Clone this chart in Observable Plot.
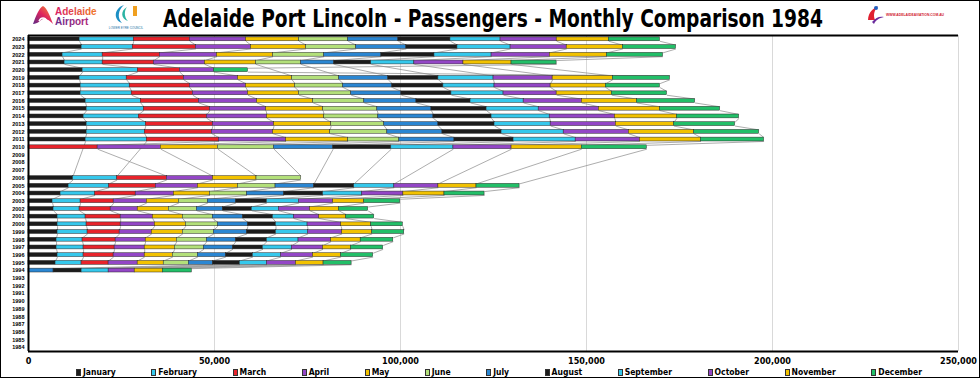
<!DOCTYPE html>
<html>
<head>
<meta charset="utf-8">
<script src="https://cdn.jsdelivr.net/npm/d3@7"></script>
<script src="https://cdn.jsdelivr.net/npm/@observablehq/plot@0.6"></script>
<style>
  html, body { margin: 0; padding: 0; background: #fff; }
  #page { position: relative; width: 980px; height: 378px; overflow: hidden; background: #fff; }
  #border { position: absolute; left: 0; top: 0; width: 980px; height: 378px; box-sizing: border-box; border: 1px solid #000; pointer-events: none; }
  #header { position: absolute; left: 0; top: 0; width: 980px; height: 33px; }
  #chart { position: absolute; left: 0; top: 33px; }
  #legend { position: absolute; left: 76px; top: 366px; width: 846px; height: 12px; display: flex; justify-content: space-between;
            font-family: "Liberation Sans Narrow", "DejaVu Sans Condensed", "Arial Narrow", sans-serif; font-stretch: condensed; font-size: 8.5px; font-weight: bold; color: #000; }
  #legend .item { display: flex; align-items: center; gap: 2px; white-space: nowrap; }
  #legend .sw { width: 5px; height: 7px; border: 1px solid #333; box-sizing: border-box; }
</style>
</head>
<body>
<div id="page">
  <svg id="header" width="980" height="33" xmlns="http://www.w3.org/2000/svg">
    <defs>
      <linearGradient id="gA" x1="0" y1="1" x2="1" y2="0">
        <stop offset="0" stop-color="#5b2a86"/><stop offset="0.5" stop-color="#e0245e"/><stop offset="1" stop-color="#f39a2b"/>
      </linearGradient>
      <linearGradient id="gT" x1="0" y1="0" x2="1" y2="0">
        <stop offset="0" stop-color="#d81f63"/><stop offset="1" stop-color="#f07a28"/>
      </linearGradient>
      <linearGradient id="gT2" x1="0" y1="0" x2="1" y2="0">
        <stop offset="0" stop-color="#6a2a8c"/><stop offset="1" stop-color="#b0287a"/>
      </linearGradient>
    </defs>
    <!-- Adelaide Airport logo -->
    <path d="M33,24 C36,16 39,8 43,6 C47,8 50,16 53,24 C50,21 46,18 43,19 C40,20 38,24 33,24 Z" fill="url(#gA)"/>
    <path d="M39,21 C41,17 45,17 47,21" fill="none" stroke="#fff" stroke-width="1.5"/>
    <text x="55" y="15" font-family="Liberation Sans, Arial, sans-serif" font-weight="bold" font-size="10" fill="url(#gT)">Adelaide</text>
    <text x="55" y="25" font-family="Liberation Sans, Arial, sans-serif" font-weight="bold" font-size="10" fill="url(#gT2)">Airport</text>
    <!-- Lower Eyre Council logo -->
    <path d="M124,5 C114,8 113,20 122,23 C117,18 118,10 124,5 Z" fill="#1c8fc4"/>
    <path d="M127,7 C120,11 121,19 128,21 C124,17 124,11 127,7 Z" fill="#2bb3a3"/>
    <rect x="133" y="6" width="4" height="10" fill="#f0a020"/>
    <text x="126" y="29" text-anchor="middle" font-family="Liberation Sans, sans-serif" font-size="3" fill="#1c6fa4">LOWER EYRE COUNCIL</text>
    <!-- Title (horizontally scaled to span x 163..823) -->
    <g id="titleG">
      <text id="title" x="0" y="27" text-anchor="middle" font-family="Liberation Sans Narrow, DejaVu Sans Condensed, Liberation Sans, sans-serif" font-weight="bold" font-size="24" fill="#000">Adelaide Port Lincoln - Passengers - Monthly Comparison 1984</text>
    </g>
    <!-- Adelaide Aviation logo -->
    <path d="M868,20 C868,12 874,8 878,6 C874,11 873,15 875,20 Z" fill="#e02030"/>
    <path d="M872,22 C876,17 880,16 884,17 C879,18 876,20 874,24 Z" fill="#6a2a9c"/>
    <circle cx="876" cy="8" r="2" fill="#2060c0"/>
    <text x="886" y="16" font-family="Liberation Sans, sans-serif" font-size="3.4" font-weight="bold" fill="#d02030">WWW.ADELAIDEAVIATION.COM.AU</text>
  </svg>
  <div id="chart"></div>
  <div id="legend"></div>
  <div id="border"></div>
</div>
<script>
// ---- Data (passengers per month) ----
const months = ["January","February","March","April","May","June","July","August","September","October","November","December"];
const monthColors = ["#1c1c1c","#35c8ec","#e8232b","#9346c6","#f2c200","#b3e07a","#2a86d2","#1c1c1c","#35c8ec","#9346c6","#f2c200","#22bf68"];
const years = d3.range(2024, 1983, -1);

const y2024 = [13740,14550,15090,15090,14280,13200,13470,14010,13470,15090,14010,13740];
const y2023 = [14280,13740,16970,14820,14820,13470,13470,13740,14280,15090,15090,14280];
const y2022 = [9160,10780,15360,15360,15090,13740,15360,14280,15360,15630,15360,15090];
const y2021 = [9700,10240,13740,13740,13740,12120,8890,9970,11580,13200,12930,12120];
const y2020 = [14550,14820,11310,9160,null,null,null,null,null,null,null,9160];
const y2019 = [13740,12660,15360,14550,14550,12660,13200,13470,14820,15890,16160,15360];
const y2018 = [14010,13200,16160,15090,13200,12930,13200,13740,13740,15090,14820,14550];
const y2017 = [14010,13740,16430,14820,13740,14010,13470,13470,14010,14280,14820,14820];
const y2016 = [15360,14820,15630,15630,15090,13740,14010,14550,14280,15630,14820,15630];
const y2015 = [15630,15360,17780,15090,15360,14550,14550,14820,14010,16160,16430,16160];
const y2014 = [14820,14820,18320,16160,15360,14550,14820,15630,15630,17510,16700,16700];
const y2013 = [15630,15890,18050,16430,15360,14280,14550,15090,15090,17510,15630,16430];
const y2012 = [15630,15630,18050,16430,15360,15360,14820,15890,16700,17510,17510,17510];
const y2011 = [15360,16430,19400,18050,16700,13740,14820,15890,16700,17240,16430,16970];
const y2010 = [null,null,18590,16970,15360,15090,15890,15630,16700,15630,18860,17510];
const y2006 = [11990,11850,13340,12390,11720,11990,null,null,null,null,null,null];
const y2005 = [10780,10910,12530,11310,10780,10100,10370,10780,10780,11850,10240,11580];
const y2004 = [8620,9290,10910,10240,9700,9970,9970,10510,10510,11050,11050,10780];
const y2003 = [6470,7540,8890,8890,8620,7810,7540,8350,8620,9160,8350,9700];
const y2002 = [6740,7000,8350,7270,8350,7540,7000,7810,7270,8350,7810,7810];
const y2001 = [7810,7540,9430,8620,8080,8080,8080,8080,5660,6740,7270,7540];
const y2000 = [7810,7810,9160,9160,8350,8620,8080,7540,8490,9020,8080,8490];
const y1999 = [7810,8080,8620,8620,8350,8350,8890,7810,8620,9160,8080,8620];
const y1998 = [7540,7000,8890,8080,8350,8080,7810,8350,8490,8760,7950,8760];
const y1997 = [7540,7270,8350,8080,8080,7810,7810,8080,7810,8350,7540,8620];
const y1996 = [7810,7000,8080,8350,7540,6740,7540,7270,7540,8620,7540,8620];
const y1995 = [7270,7000,7270,7810,7000,6740,6470,7270,7270,7810,7410,7540];
const y1994 = [null,null,null,null,null,null,6740,7540,7270,7000,7540,7810];

const xTicks = [0, 50000, 100000, 150000, 200000, 250000];

// ---- Title fit ----
(function fitTitle() {
  const t = document.getElementById("title");
  const w = t.getComputedTextLength() || 660;
  const sx = 660 / w;
  document.getElementById("titleG").setAttribute("transform", `translate(493,0) scale(${sx},1)`);
})();

// ---- Build tables ----
const series = {2024:y2024,2023:y2023,2022:y2022,2021:y2021,2020:y2020,2019:y2019,2018:y2018,2017:y2017,2016:y2016,2015:y2015,2014:y2014,2013:y2013,2012:y2012,2011:y2011,2010:y2010,2006:y2006,2005:y2005,2004:y2004,2003:y2003,2002:y2002,2001:y2001,2000:y2000,1999:y1999,1998:y1998,1997:y1997,1996:y1996,1995:y1995,1994:y1994};
const half = 0.25;
const segs = [];
const ends = {};
for (const yr of years) {
  const vals = series[yr];
  if (!vals) continue;
  let c = 0;
  ends[yr] = [];
  vals.forEach((v, m) => {
    if (v == null) { ends[yr][m] = null; return; }
    segs.push({year: yr, month: months[m], m, x1: c, x2: c + v, y1: yr - half, y2: yr + half});
    c += v;
    ends[yr][m] = c;
  });
}
const links = [];
for (let m = 0; m < 12; m++) {
  const ys = years.filter(yr => ends[yr] && ends[yr][m] != null);
  for (let i = 0; i + 1 < ys.length; i++) {
    const a = ys[i], b = ys[i + 1];
    links.push({x1: ends[a][m], y1: a - half, x2: ends[b][m], y2: b + half});
  }
}

const chart = Plot.plot({
  width: 980,
  height: 334,
  marginLeft: 28,
  marginRight: 22,
  marginTop: 2,
  marginBottom: 16,
  x: {domain: [0, 250000], axis: null},
  y: {domain: [1983.5, 2024.5], axis: null},
  color: {domain: months, range: monthColors},
  style: {background: "transparent", overflow: "visible"},
  marks: [
    Plot.ruleX(xTicks.slice(1), {stroke: "#d9d9d9", strokeWidth: 1}),
    Plot.link(links, {x1: "x1", y1: "y1", x2: "x2", y2: "y2", stroke: "#8a8a8a", strokeWidth: 0.7}),
    Plot.rect(segs, {x1: "x1", x2: "x2", y1: "y1", y2: "y2", fill: "month", stroke: "#2a2a2a", strokeWidth: 0.5}),
    Plot.ruleX([0], {stroke: "#000", strokeWidth: 2}),
    Plot.ruleY([2024.5, 1983.5], {stroke: "#000", strokeWidth: 2}),
    Plot.text(years, {x: 0, y: d => d, text: d => String(d), dx: -4, textAnchor: "end", fontSize: 5.5, fontWeight: "bold", fontFamily: "Liberation Sans, Arial, sans-serif", fill: "#000"}),
    Plot.text(xTicks, {x: d => d, frameAnchor: "bottom", dy: 12, text: d => d3.format(",")(d), fontSize: 9, fontWeight: "bold", fontFamily: "Liberation Sans Narrow, DejaVu Sans Condensed, Arial Narrow, sans-serif", fill: "#000"})
  ]
});
document.getElementById("chart").appendChild(chart);

// ---- Legend ----
const legend = document.getElementById("legend");
months.forEach((name, i) => {
  const it = document.createElement("div");
  it.className = "item";
  const sw = document.createElement("div");
  sw.className = "sw";
  sw.style.background = monthColors[i];
  const tx = document.createElement("span");
  tx.textContent = name;
  it.appendChild(sw); it.appendChild(tx);
  legend.appendChild(it);
});
</script>
</body>
</html>
